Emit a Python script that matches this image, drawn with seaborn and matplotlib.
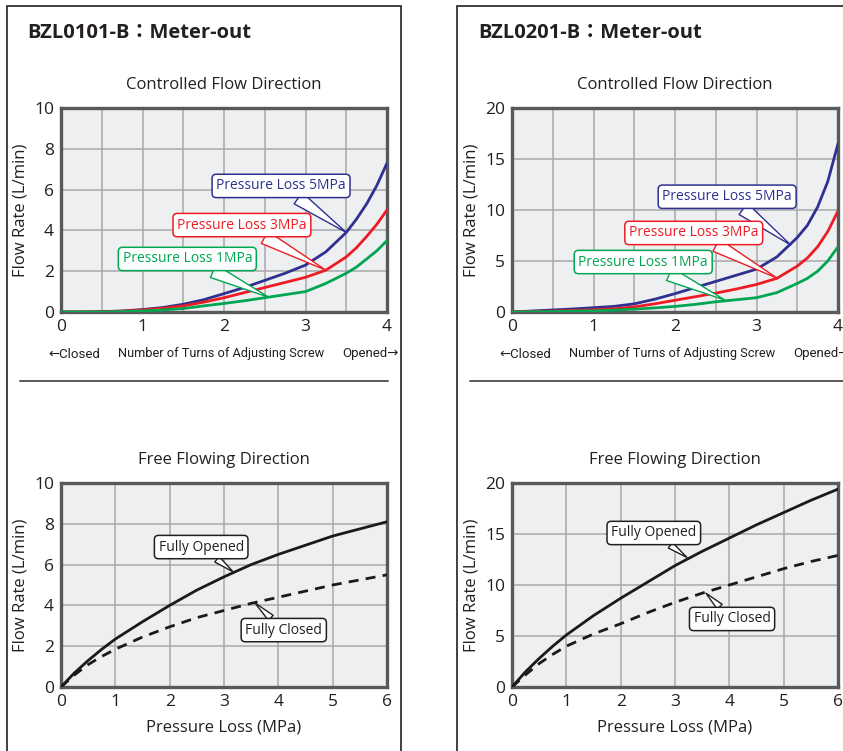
import numpy as np
import pandas as pd
import matplotlib
matplotlib.use("Agg")
import matplotlib.pyplot as plt
from matplotlib.patches import Rectangle
from matplotlib.lines import Line2D
from matplotlib.ticker import MultipleLocator
import seaborn as sns

# ---------------- data ----------------
turns = [0, 0.25, 0.5, 0.75, 1.0, 1.25, 1.5, 1.75, 2.0, 2.25, 2.5, 2.75, 3.0, 3.25, 3.5, 3.625, 3.75, 3.875, 4.0]
series_labels = ["Pressure Loss 5MPa", "Pressure Loss 3MPa", "Pressure Loss 1MPa"]

a_5mpa = [0, 0.0, 0.02, 0.05, 0.12, 0.22, 0.38, 0.6, 0.9, 1.2, 1.55, 1.9, 2.3, 2.95, 3.9, 4.55, 5.3, 6.2, 7.3]
a_3mpa = [0, 0.0, 0.01, 0.04, 0.1, 0.18, 0.3, 0.48, 0.7, 0.95, 1.2, 1.45, 1.7, 2.05, 2.7, 3.15, 3.7, 4.3, 5.0]
a_1mpa = [0, 0.0, 0.0, 0.02, 0.05, 0.1, 0.17, 0.3, 0.42, 0.55, 0.7, 0.85, 1.0, 1.4, 1.9, 2.2, 2.6, 3.0, 3.5]

b_5mpa = [0, 0.1, 0.2, 0.3, 0.42, 0.55, 0.8, 1.25, 1.8, 2.4, 3.0, 3.6, 4.2, 5.4, 7.3, 8.5, 10.3, 12.8, 16.5]
b_3mpa = [0, 0.05, 0.1, 0.15, 0.22, 0.32, 0.5, 0.8, 1.15, 1.5, 1.85, 2.25, 2.7, 3.3, 4.5, 5.3, 6.4, 7.9, 9.9]
b_1mpa = [0, 0.02, 0.05, 0.08, 0.12, 0.18, 0.28, 0.4, 0.55, 0.75, 1.0, 1.2, 1.4, 1.9, 2.8, 3.3, 4.0, 5.0, 6.4]

pressure = [0, 0.25, 0.5, 0.75, 1, 1.5, 2, 2.5, 3, 3.5, 4, 4.5, 5, 5.5, 6]
a_open = [0, 0.7, 1.3, 1.85, 2.35, 3.2, 4.0, 4.75, 5.4, 6.0, 6.5, 6.95, 7.4, 7.75, 8.1]
a_closed = [0, 0.6, 1.1, 1.5, 1.85, 2.45, 2.95, 3.4, 3.75, 4.1, 4.4, 4.7, 5.0, 5.25, 5.5]
b_open = [0, 1.5, 2.8, 4.0, 5.1, 7.0, 8.7, 10.3, 11.9, 13.3, 14.6, 15.9, 17.1, 18.3, 19.4]
b_closed = [0, 1.2, 2.3, 3.2, 4.0, 5.2, 6.2, 7.3, 8.3, 9.2, 10.0, 10.8, 11.6, 12.3, 12.9]

titles = ["BZL0101-B：Meter-out", "BZL0201-B：Meter-out"]
sub_top = "Controlled Flow Direction"
sub_bot = "Free Flowing Direction"
ylab = "Flow Rate (L/min)"
xlab_bot = "Pressure Loss (MPa)"
xlab_top = ["←Closed", "Number of Turns of Adjusting Screw", "Opened→"]

# ---------------- style ----------------
sns.set_style("white")
plt.rcParams["font.family"] = ["Open Sans", "Noto Sans CJK JP", "DejaVu Sans"]
plt.rcParams["text.color"] = "#231f20"

COL5 = "#2e3192"
COL3 = "#ed1c24"
COL1 = "#00a651"
TXT = "#231f20"
AXBG = "#eeeff0"
GRID = "#a7a9ac"
SPINE = "#58595b"

W, H = 843, 751
fig = plt.figure(figsize=(W / 100, H / 100), dpi=100)

def fx(px):
    return px / W

def fy(py):
    return 1 - py / H

def make_ax(x0, x1, ytop, ybot):
    return fig.add_axes([fx(x0), fy(ybot), fx(x1) - fx(x0), fy(ytop) - fy(ybot)])

def style_ax(ax, xmax, ymax, xmaj, xmin, ystep):
    ax.set_facecolor(AXBG)
    ax.set_xlim(0, xmax)
    ax.set_ylim(0, ymax)
    ax.xaxis.set_major_locator(MultipleLocator(xmaj))
    ax.xaxis.set_minor_locator(MultipleLocator(xmin))
    ax.yaxis.set_major_locator(MultipleLocator(ystep))
    ax.grid(True, which="both", color=GRID, lw=1.1, zorder=0)
    ax.set_axisbelow(True)
    for s in ax.spines.values():
        s.set_color(SPINE)
        s.set_linewidth(2.4)
        s.set_visible(True)
    ax.tick_params(axis="both", which="both", length=0, labelsize=12.5, colors=TXT)
    ax.tick_params(axis="x", pad=5)
    ax.tick_params(axis="y", pad=5)
    ax.set_ylabel(ylab, fontsize=12, color=TXT, labelpad=4)
    ax.set_xlabel("")

def callout(ax, text, xy, xytext, color, tw=0.9, fs=10):
    ax.annotate(text, xy=xy, xytext=xytext, textcoords="data",
                ha="center", va="center", fontsize=fs, color=color,
                bbox=dict(boxstyle="round,pad=0.3,rounding_size=0.3", fc="white", ec=color, lw=1.1),
                arrowprops=dict(arrowstyle=f"wedge,tail_width={tw},shrink_factor=0.5",
                                fc="white", ec=color, lw=1.0, shrinkA=0, shrinkB=0),
                zorder=6, annotation_clip=False)

panels = [
    dict(x0=61, title=titles[0], ymax_top=10, ystep_top=2, top=(a_5mpa, a_3mpa, a_1mpa),
         ymax_bot=10, ystep_bot=2, bot=(a_open, a_closed),
         calls_top=[((3.5, 3.9), (2.70, 6.18)), ((3.25, 2.05), (2.22, 4.26)), ((2.55, 0.72), (1.55, 2.6))],
         calls_bot=[((3.17, 5.64), (2.58, 6.86)), ((3.57, 4.12), (4.10, 2.79))]),
    dict(x0=512, title=titles[1], ymax_top=20, ystep_top=5, top=(b_5mpa, b_3mpa, b_1mpa),
         ymax_bot=20, ystep_bot=5, bot=(b_open, b_closed),
         calls_top=[((3.42, 6.57), (2.64, 11.3)), ((3.25, 3.33), (2.23, 7.75)), ((2.61, 1.18), (1.61, 4.9))],
         calls_bot=[((3.22, 12.7), (2.61, 15.1)), ((3.57, 9.2), (4.05, 6.67))]),
]

colors = [COL5, COL3, COL1]
narrow = ["Roboto", "DejaVu Sans"]

for i, p in enumerate(panels):
    x0 = p["x0"]
    x1 = x0 + 326
    # ---- top: controlled flow ----
    ax = make_ax(x0, x1, 108, 312)
    df = pd.DataFrame({
        "turns": turns * 3,
        "flow": list(p["top"][0]) + list(p["top"][1]) + list(p["top"][2]),
        "series": sum([[lab] * len(turns) for lab in series_labels], []),
    })
    sns.lineplot(data=df, x="turns", y="flow", hue="series", palette=dict(zip(series_labels, colors)),
                 ax=ax, lw=2.0, legend=False, zorder=3, clip_on=True)
    style_ax(ax, 4, p["ymax_top"], 1, 0.5, p["ystep_top"])
    ax.set_title(sub_top, fontsize=12, color=TXT, pad=14)
    for (xy, xt), lab, c in zip(p["calls_top"], series_labels, colors):
        callout(ax, lab, xy, xt, c, tw=1.0, fs=10)
    # x label row (condensed look)
    fig.text(fx(x0 - 13), fy(354), xlab_top[0], ha="left", va="center",
             fontsize=9.5, color=TXT, family=narrow)
    fig.text(fx(x0 + 160), fy(354), xlab_top[1], ha="center", va="center",
             fontsize=9.2, color=TXT, family=narrow)
    fig.text(fx(x0 + 338), fy(354), xlab_top[2], ha="right", va="center",
             fontsize=9.5, color=TXT, family=narrow)

    # ---- bottom: free flow ----
    axb = make_ax(x0, x1, 483, 687)
    dfb = pd.DataFrame({
        "pressure": pressure * 2,
        "flow": list(p["bot"][0]) + list(p["bot"][1]),
        "state": ["Fully Opened"] * len(pressure) + ["Fully Closed"] * len(pressure),
    })
    sns.lineplot(data=dfb, x="pressure", y="flow", style="state",
                 dashes={"Fully Opened": "", "Fully Closed": (3.6, 2.6)},
                 color="#1a1a1a", ax=axb, lw=2.0, legend=False, zorder=3)
    style_ax(axb, 6, p["ymax_bot"], 1, 1, p["ystep_bot"])
    axb.set_title(sub_bot, fontsize=12, color=TXT, pad=14)
    axb.set_xlabel(xlab_bot, fontsize=12, color=TXT, labelpad=7)
    for (xy, xt), lab in zip(p["calls_bot"], ["Fully Opened", "Fully Closed"]):
        callout(axb, lab, xy, xt, "#231f20", tw=0.5, fs=10)

    # ---- panel title ----
    fig.text(fx(x0 - 34), fy(33), p["title"], fontsize=14.5, fontweight="bold", color=TXT,
             ha="left", va="center")

# panel frames and separators
fig.add_artist(Rectangle((fx(7), fy(760)), fx(401) - fx(7), fy(6) - fy(760), transform=fig.transFigure,
                         fill=False, ec="#231f20", lw=1.2))
fig.add_artist(Rectangle((fx(457), fy(760)), fx(900) - fx(457), fy(6) - fy(760), transform=fig.transFigure,
                         fill=False, ec="#231f20", lw=1.2))
fig.add_artist(Line2D([fx(20), fx(388)], [fy(381), fy(381)], transform=fig.transFigure,
                      color="#58595b", lw=1.4))
fig.add_artist(Line2D([fx(470), fx(843)], [fy(381), fy(381)], transform=fig.transFigure,
                      color="#58595b", lw=1.4))

fig.savefig("out.png", dpi=100, facecolor="white")
